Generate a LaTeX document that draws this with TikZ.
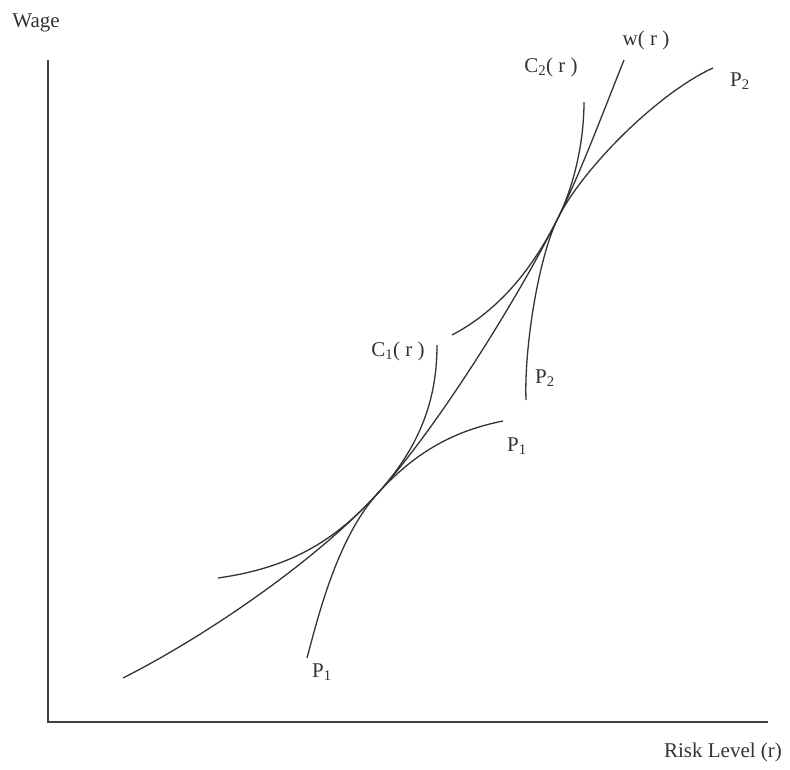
\documentclass[tikz,border=0pt]{standalone}
\usepackage{fontspec}
\setmainfont{Liberation Serif}
\begin{document}
\begin{tikzpicture}[x=1pt,y=-1pt,
  curve/.style={line width=1.3pt,draw=black!80},
  axis/.style={line width=1.5pt,draw=black!75},
  lbl/.style={inner sep=0pt,font=\fontsize{21}{24}\selectfont,text=black!80}]
\useasboundingbox (0,0) rectangle (790,769);
% axes
\coordinate (top) at (48,60);
\coordinate (origin) at (48,722);
\coordinate (right) at (768,722);
\draw[axis] (top) -- (origin) -- (right);
% tangency points
\coordinate (T1) at (378,493);
\coordinate (T2) at (558,218);
% w(r)
\coordinate (wA) at (123,678);
\coordinate (wE) at (624,60);
\draw[curve] (wA) .. controls (208,635) and (318,559) .. (T1)
  .. controls (438,427) and (518,298) .. (T2)
  .. controls (580,174) and (602,115) .. (wE);
% C1
\coordinate (c1a) at (218,578);
\coordinate (c1b) at (437,345);
\draw[curve] (c1a) .. controls (288,568) and (333,543) .. (T1)
  .. controls (423,443) and (437,395) .. (c1b);
% P1
\coordinate (p1a) at (307,658);
\coordinate (p1b) at (503,421);
\draw[curve] (p1a) .. controls (319,613) and (338,537) .. (T1)
  .. controls (418,449) and (458,430) .. (p1b);
% C2
\coordinate (c2a) at (452,335);
\coordinate (c2b) at (584,102);
\draw[curve] (c2a) .. controls (492,314) and (528,278) .. (T2)
  .. controls (574,186) and (584,142) .. (c2b);
% P2
\coordinate (p2a) at (526,400);
\coordinate (p2b) at (713,68);
\draw[curve] (p2a) .. controls (524,350) and (538,258) .. (T2)
  .. controls (583,168) and (658,93) .. (p2b);
% labels
\node[lbl] (wage) at (36,23) {Wage};
\node[lbl] (risk) at (723,752) {Risk Level (r)};
\node[lbl] (lw) at (646,40) {w( r )};
\node[lbl] (lc2) at (551,67) {C\textsubscript{2}( r )};
\node[lbl] (lp2t) at (740,81) {P\textsubscript{2}};
\node[lbl] (lc1) at (398,351) {C\textsubscript{1}( r )};
\node[lbl] (lp2m) at (545,378) {P\textsubscript{2}};
\node[lbl] (lp1m) at (517,446) {P\textsubscript{1}};
\node[lbl] (lp1b) at (322,672) {P\textsubscript{1}};
\end{tikzpicture}
\end{document}
